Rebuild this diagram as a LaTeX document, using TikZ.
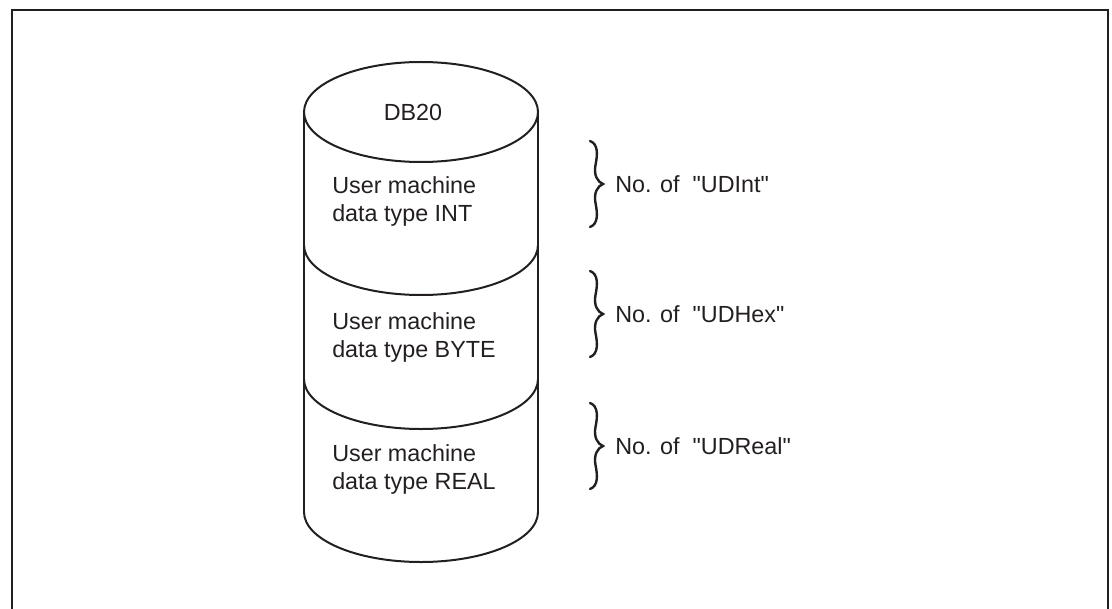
\documentclass[tikz,border=0pt]{standalone}
\usepackage{fontspec}
\setmainfont{Liberation Sans}
\definecolor{ink}{RGB}{35,31,32}
\newcommand{\qq}{\textquotedbl}
\begin{document}
\begin{tikzpicture}[x=0.75pt,y=0.75pt,
  line/.style={draw=ink,line width=1.5pt},
  frameline/.style={draw=ink,line width=1.6pt},
  celltext/.style={anchor=west,align=left,inner sep=0pt,text=ink,font=\fontsize{17.5}{21}\selectfont},
  lbl/.style={anchor=west,inner sep=0pt,text=ink,font=\fontsize{17.5}{21}\selectfont},
  pics/curlybrace/.style={code={
    \draw[draw=ink,line width=1.8pt,line cap=round]
      (-6.5,43) .. controls (2,40) and (1,29) .. (-1,19)
      .. controls (-3,9) and (1,2) .. (6.5,0)
      .. controls (1,-2) and (-3,-9) .. (-1,-19)
      .. controls (1,-29) and (2,-40) .. (-6.5,-43);
  }}]
\useasboundingbox (0,0) rectangle (1112,608);
% frame (open at the bottom)
\draw[frameline] (12,-10) -- (12,598) -- (1108,598) -- (1108,-10);
% cylinder
\draw[line] (421,496) ellipse[x radius=117,y radius=50];
\draw[line] (304,496) -- (304,96);
\draw[line] (538,496) -- (538,96);
\draw[line] (304,363) arc[start angle=180,end angle=360,x radius=117,y radius=50];
\draw[line] (304,229) arc[start angle=180,end angle=360,x radius=117,y radius=50];
\draw[line] (304,96) arc[start angle=180,end angle=360,x radius=117,y radius=50];
% texts
\node[lbl,anchor=center] (db) at (413,496) {DB20};
\node[celltext] (t1) at (332,407) {User machine\\data type INT};
\node[celltext] (t2) at (332,270.5) {User machine\\data type BYTE};
\node[celltext] (t3) at (332,139) {User machine\\data type REAL};
% braces and labels
\pic at (596.5,424) {curlybrace};
\pic at (596.5,294) {curlybrace};
\pic at (596.5,162) {curlybrace};
\node[lbl] (l1) at (615,424) {No. of\ \ \qq UDInt\qq};
\node[lbl] (l2) at (615,294) {No. of\ \ \qq UDHex\qq};
\node[lbl] (l3) at (615,162) {No. of\ \ \qq UDReal\qq};
\end{tikzpicture}
\end{document}
